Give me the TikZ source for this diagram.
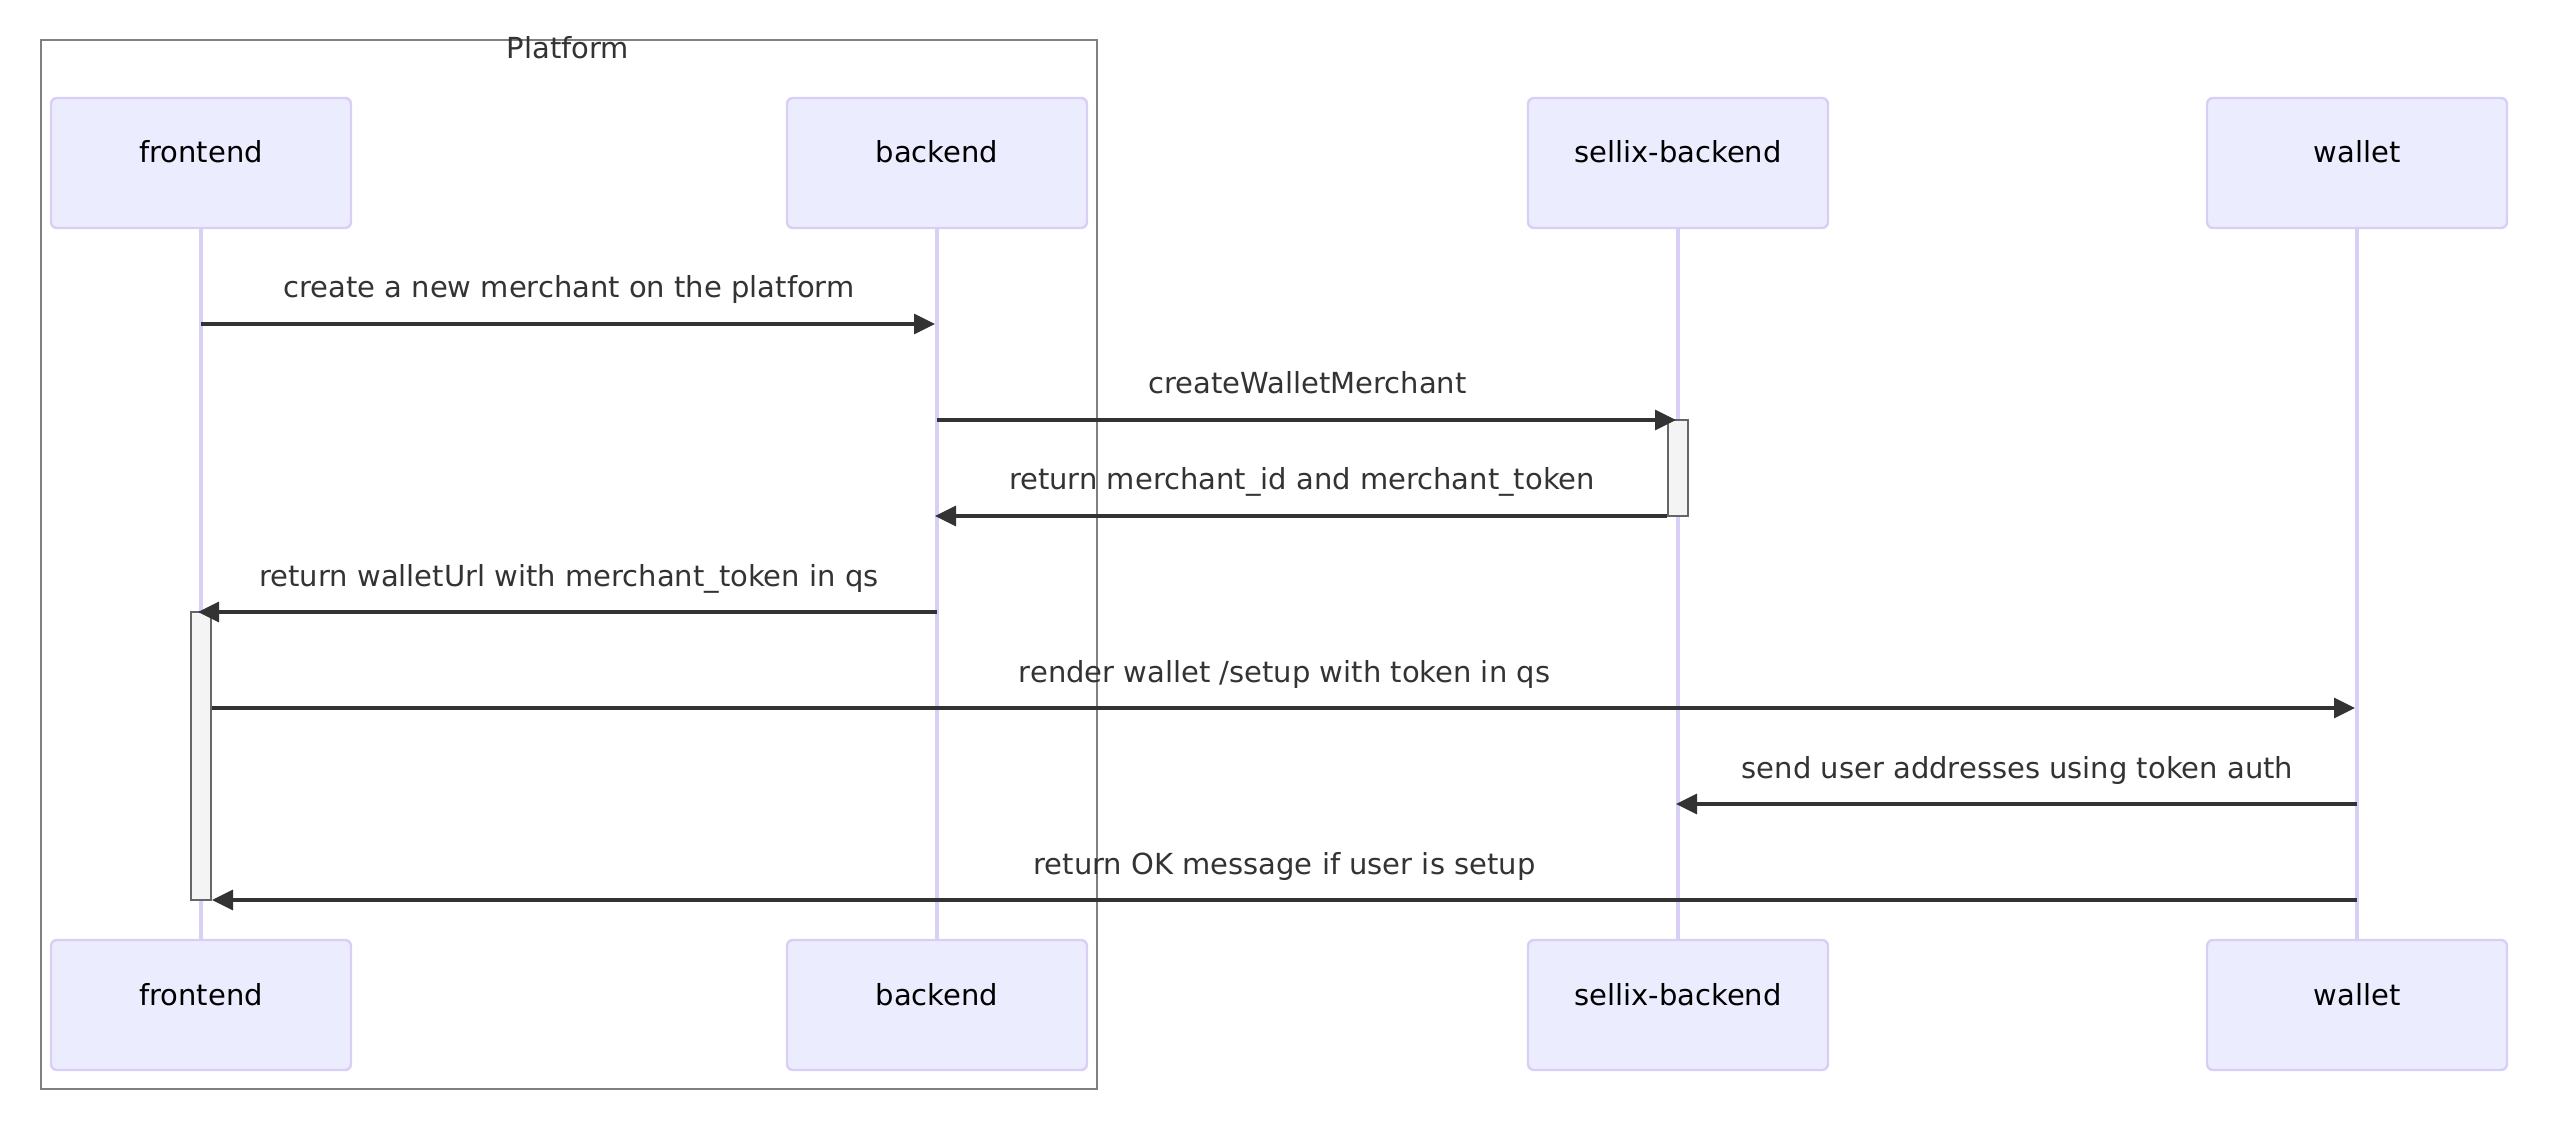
\documentclass[tikz,border=0pt]{standalone}
\usepackage{fontspec}
\setmainfont{DejaVu Sans}
\usetikzlibrary{arrows.meta}
\definecolor{actorfill}{HTML}{ECECFF}
\definecolor{actorline}{RGB}{216,206,246}
\definecolor{msgline}{HTML}{333333}
\definecolor{actfill}{HTML}{F4F4F4}
\definecolor{actline}{HTML}{666666}
\definecolor{framegray}{HTML}{808080}
\tikzset{
  actor/.style={draw=actorline, fill=actorfill, line width=1.2pt, rounded corners=3pt, minimum width=150pt, minimum height=65pt, text height=8pt, text depth=8pt, inner sep=0pt},
  lifeline/.style={draw=actorline, line width=1.6pt},
  msg/.style={draw=msgline, line width=1.7pt, -{Triangle[length=10.5pt,width=10pt]}},
  lbl/.style={midway, anchor=base, yshift=13pt, text=msgline, inner sep=0pt},
  activation/.style={draw=actline, fill=actfill, line width=1pt, minimum width=10pt, inner sep=0pt},
}
\begin{document}
\begin{tikzpicture}[x=0.5pt, y=-0.5pt, font=\fontsize{14.5}{17}\selectfont]
\useasboundingbox (0,0) rectangle (2560,1128);
\draw[framegray, line width=1pt] (41,40) rectangle (1097,1089);
\node[text=msgline, anchor=base, inner sep=0pt] (platform) at (568,59) {Platform};
\foreach \n/\x/\t in {fe/201/frontend, be/937/backend, sb/1678/sellix-backend, wa/2357/wallet}{
  \node[actor] (\n) at (\x,163) {\t};
  \node[actor] (\n-end) at (\x,1005) {\t};
  \draw[lifeline] (\n) -- (\n-end);
}
\foreach \i/\y in {1/324, 2/420, 3/516, 4/612, 5/708, 6/804, 7/900} \coordinate (r\i) at (0,\y);
\node[activation, minimum height=48pt] (actS) at (1678,468) {};
\node[activation, minimum height=144pt] (actF) at (201,756) {};
\draw[msg, shorten >=1pt] (fe |- r1) -- (be |- r1) node[lbl] (m1) {create a new merchant on the platform};
\draw[msg, shorten >=1pt] (be |- r2) -- (sb |- r2) node[lbl] (m2) {createWalletMerchant};
\draw[msg, shorten >=-1pt] (actS.west |- r3) -- (be |- r3) node[lbl] (m3) {return merchant\_id and merchant\_token};
\draw[msg, shorten >=-1.5pt] (be |- r4) -- (fe |- r4) node[lbl] (m4) {return walletUrl with merchant\_token in qs};
\draw[msg, shorten >=1pt] (actF.east |- r5) -- (wa |- r5) node[lbl] (m5) {render wallet /setup with token in qs};
\draw[msg, shorten >=-1pt] (wa |- r6) -- (sb |- r6) node[lbl] (m6) {send user addresses using token auth};
\draw[msg] (wa |- r7) -- (actF.east |- r7) node[lbl] (m7) {return OK message if user is setup};
\end{tikzpicture}
\end{document}
